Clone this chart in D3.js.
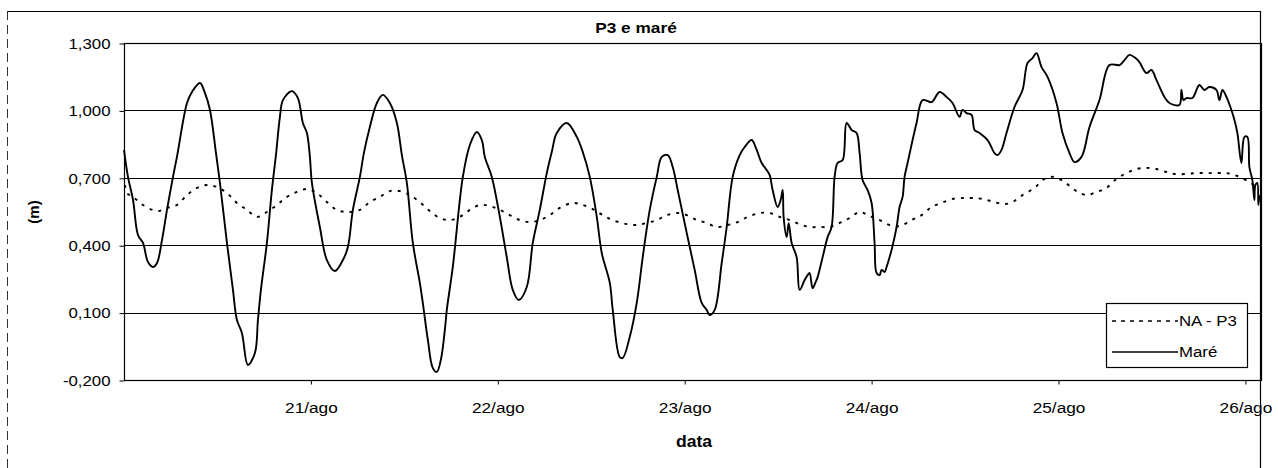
<!DOCTYPE html>
<html>
<head>
<meta charset="utf-8">
<script src="https://cdn.jsdelivr.net/npm/d3@7"></script>
<style>
  html, body { margin: 0; padding: 0; background: #fff; }
  svg { display: block; }
  text { font-family: "Liberation Sans", Arial, sans-serif; fill: #000; }
</style>
</head>
<body>
<svg id="chart" width="1278" height="468"></svg>
<script>
// Hours counted from 20/ago 00:00
const tideHours = [0,0.51,1.16,1.80,2.44,3.08,3.72,4.24,4.88,5.52,6.29,6.80,8.09,8.73,9.75,10.40,11.04,11.81,12.32,13.22,13.99,14.50,15.14,15.91,16.81,17.20,17.58,18.35,18.99,19.51,20.02,20.41,21.56,22.33,22.97,23.49,23.87,24.13,25.15,26.05,27.08,28.11,28.75,29.39,30.29,30.80,31.57,32.47,33.24,34.14,35.04,35.68,36.32,37.09,37.99,38.37,39.02,39.66,40.17,40.68,41.20,41.45,42.22,43.51,44.41,45.30,45.95,46.33,47.23,48.26,49.15,49.92,50.69,51.72,52.49,53.39,54.29,54.93,55.57,56.86,58.14,58.91,59.81,60.71,61.35,62.38,62.76,63.66,64.04,64.94,65.84,66.61,67.51,68.41,69.05,69.82,70.46,71.10,72.26,73.28,74.18,74.82,75.21,75.85,76.75,77.39,78.16,79.06,79.70,80.60,81.24,81.88,82.52,82.91,83.29,83.93,84.32,84.58,84.70,85.09,85.35,85.73,86.37,86.76,87.40,87.78,88.04,88.42,88.81,89.07,89.71,90.35,90.86,91.25,91.63,92.28,92.79,93.43,94.07,94.46,94.84,95.48,96.00,96.38,96.64,97.03,97.28,97.67,97.92,98.56,99.21,99.59,99.98,100.23,100.62,101.26,101.77,102.54,103.70,104.72,105.62,106.39,107.29,107.67,108.19,108.83,109.22,109.86,110.89,111.78,112.17,112.68,113.32,114.35,115.38,116.02,116.66,117.17,117.82,118.59,119.74,120.51,121.41,122.05,122.95,123.98,125.26,126.54,127.83,128.47,129.11,129.88,130.39,131.29,131.93,132.58,133.60,134.24,135.53,135.78,136.04,136.42,137.19,138.09,138.73,139.38,140.27,140.66,141.05,141.56,142.20,142.59,142.97,143.48,143.87,144.25,144.51,144.89,145.15,145.28,145.53,145.66,145.79];
const tideLevel = [0.824,0.704,0.601,0.445,0.410,0.325,0.303,0.321,0.423,0.557,0.704,0.793,1.033,1.082,1.122,1.077,1.002,0.810,0.677,0.410,0.201,0.067,0.009,-0.133,-0.080,0.067,0.201,0.410,0.646,0.801,0.971,1.046,1.086,1.055,0.944,0.899,0.793,0.677,0.481,0.334,0.285,0.334,0.392,0.557,0.704,0.810,0.926,1.033,1.069,1.033,0.944,0.801,0.677,0.410,0.232,0.143,-0.022,-0.147,-0.164,-0.111,0.023,0.112,0.303,0.704,0.846,0.904,0.868,0.793,0.704,0.526,0.347,0.201,0.156,0.214,0.410,0.557,0.721,0.815,0.899,0.944,0.882,0.815,0.704,0.526,0.365,0.232,0.112,-0.098,-0.102,-0.009,0.143,0.347,0.557,0.704,0.793,0.801,0.748,0.646,0.454,0.290,0.143,0.112,0.089,0.112,0.321,0.481,0.704,0.801,0.837,0.868,0.824,0.766,0.735,0.712,0.646,0.570,0.601,0.646,0.526,0.436,0.498,0.410,0.347,0.201,0.245,0.267,0.276,0.209,0.236,0.258,0.347,0.436,0.481,0.704,0.766,0.779,0.944,0.913,0.899,0.810,0.690,0.646,0.588,0.410,0.276,0.267,0.290,0.281,0.303,0.379,0.481,0.570,0.615,0.704,0.766,0.868,0.944,1.046,1.037,1.082,1.060,1.033,0.971,1.002,0.988,0.980,0.913,0.899,0.868,0.810,0.801,0.824,0.899,1.015,1.091,1.211,1.233,1.255,1.193,1.149,1.033,0.899,0.810,0.770,0.793,0.926,1.046,1.202,1.202,1.224,1.247,1.233,1.215,1.166,1.180,1.135,1.060,1.033,1.024,1.091,1.046,1.055,1.055,1.113,1.091,1.104,1.091,1.046,1.091,1.060,1.002,0.957,0.899,0.766,0.882,0.882,0.748,0.690,0.601,0.668,0.677,0.579,0.623];

const wellHours = [0.13,0.39,1.16,2.44,4.24,5.52,6.80,8.09,9.37,10.65,11.94,13.22,14.50,15.79,17.07,18.35,19.64,20.92,22.20,23.49,24.77,26.05,27.34,28.62,30.29,31.57,32.86,34.14,35.42,36.71,37.99,39.27,40.56,41.84,43.12,44.41,45.69,46.97,48.26,49.54,50.82,52.11,53.39,54.67,55.96,57.62,58.91,60.19,61.47,62.76,64.55,65.84,67.12,68.41,69.69,71.10,72.26,73.54,74.82,76.11,77.52,78.80,80.08,81.62,82.91,84.19,85.47,86.76,88.04,89.32,90.61,91.89,93.17,94.46,95.74,97.03,98.31,99.59,101.13,102.42,103.70,104.98,106.39,107.94,108.96,110.24,111.78,113.07,114.09,115.38,116.92,118.20,119.48,120.90,122.31,123.59,124.87,126.16,127.44,128.73,130.01,131.29,132.58,133.86,134.89,136.42,137.70,138.99,140.27,141.56,142.97,144.51,145.28];
const wellLevel = [0.668,0.632,0.615,0.579,0.552,0.566,0.579,0.623,0.655,0.668,0.659,0.632,0.588,0.557,0.526,0.548,0.579,0.615,0.637,0.650,0.632,0.592,0.557,0.548,0.557,0.592,0.615,0.641,0.641,0.623,0.592,0.552,0.521,0.512,0.526,0.557,0.579,0.574,0.557,0.534,0.512,0.503,0.512,0.534,0.566,0.588,0.579,0.561,0.534,0.512,0.494,0.490,0.499,0.512,0.534,0.543,0.534,0.512,0.499,0.481,0.490,0.503,0.526,0.543,0.543,0.526,0.512,0.494,0.481,0.481,0.481,0.499,0.521,0.548,0.530,0.512,0.490,0.485,0.512,0.534,0.570,0.588,0.606,0.610,0.610,0.606,0.592,0.583,0.592,0.623,0.655,0.695,0.704,0.677,0.641,0.623,0.637,0.655,0.695,0.721,0.739,0.744,0.739,0.726,0.717,0.717,0.721,0.721,0.721,0.721,0.708,0.681,0.664];

const dayTicks = [24, 48, 72, 96, 120, 144];
const dayLabels = ["21/ago", "22/ago", "23/ago", "24/ago", "25/ago", "26/ago"];
const levelTicks = [-0.2, 0.1, 0.4, 0.7, 1.0, 1.3];

const svg = d3.select("#chart");
const plot = { left: 124, right: 1261, top: 43, bottom: 380 };

const x = d3.scaleLinear().domain([0, 146]).range([plot.left, plot.right]);
const y = d3.scaleLinear().domain([-0.2, 1.3]).range([plot.bottom, plot.top]);

const ptBR = d3.formatLocale({ decimal: ",", thousands: ".", grouping: [3], currency: ["R$", ""], minus: "-" });
const fmt = ptBR.format(".3f");

// outer chart frame
svg.append("line").attr("x1", 7).attr("x2", 1260.5).attr("y1", 11.5).attr("y2", 11.5)
  .attr("stroke", "#000").attr("stroke-width", 1.2);
svg.append("line").attr("x1", 1260.5).attr("x2", 1260.5).attr("y1", 11).attr("y2", 468)
  .attr("stroke", "#000").attr("stroke-width", 1.2);
svg.append("line").attr("x1", 7.5).attr("x2", 7.5).attr("y1", 11).attr("y2", 468)
  .attr("stroke", "#333").attr("stroke-width", 1).attr("stroke-dasharray", "9,5");

// horizontal gridlines
svg.append("g").selectAll("line").data(levelTicks).join("line")
  .attr("x1", plot.left).attr("x2", plot.right)
  .attr("y1", d => Math.round(y(d)) + 0.5).attr("y2", d => Math.round(y(d)) + 0.5)
  .attr("stroke", "#000").attr("stroke-width", 1.2);

// plot border
svg.append("rect").attr("x", plot.left + 0.5).attr("y", plot.top + 0.5)
  .attr("width", plot.right - plot.left).attr("height", plot.bottom - plot.top)
  .attr("fill", "none").attr("stroke", "#000").attr("stroke-width", 1.2);

// axes
const yAxis = d3.axisLeft(y).tickValues(levelTicks).tickFormat(fmt).tickSize(5).tickPadding(9);
const gy = svg.append("g").attr("transform", `translate(${plot.left + 0.5},0.5)`).call(yAxis);
gy.select(".domain").remove();
gy.selectAll("text").attr("font-size", 15).attr("font-family", "Liberation Sans, Arial, sans-serif");

const xAxis = d3.axisBottom(x).tickValues(dayTicks).tickFormat((d, i) => dayLabels[i]).tickSize(4).tickPadding(18);
const gx = svg.append("g").attr("transform", `translate(0,${plot.bottom + 0.5})`).call(xAxis);
gx.select(".domain").remove();
gx.selectAll("text").attr("font-size", 15).attr("font-family", "Liberation Sans, Arial, sans-serif");

// widen the lettering slightly around its anchor point
function widen(sel, k) {
  sel.each(function () {
    const t = d3.select(this);
    const bb = this.getBBox();
    const anchor = t.attr("text-anchor") || getComputedStyle(this).textAnchor;
    const ox = anchor === "end" ? bb.x + bb.width : (anchor === "start" ? bb.x : bb.x + bb.width / 2);
    t.attr("transform", `translate(${ox},0) scale(${k},1) translate(${-ox},0)`);
  });
}
widen(gy.selectAll("text"), 1.12);
widen(gx.selectAll("text"), 1.15);

// series
const tide = tideHours.map((h, i) => [h, tideLevel[i]]);
const well = wellHours.map((h, i) => [h, wellLevel[i]]);
const line = d3.line().x(d => x(d[0])).y(d => y(d[1])).curve(d3.curveCatmullRom.alpha(0.5));

svg.append("path").datum(well).attr("d", line).attr("fill", "none")
  .attr("stroke", "#000").attr("stroke-width", 1.9).attr("stroke-dasharray", "3,6");
svg.append("path").datum(tide).attr("d", line).attr("fill", "none")
  .attr("stroke", "#000").attr("stroke-width", 1.9).attr("stroke-linejoin", "round");

// title and axis titles
const title = svg.append("text").attr("x", 636).attr("y", 33).attr("text-anchor", "middle")
  .attr("font-size", 15).attr("font-weight", "bold").text("P3 e maré");
const xTitle = svg.append("text").attr("x", 694).attr("y", 447).attr("text-anchor", "middle")
  .attr("font-size", 16).attr("font-weight", "bold").text("data");
svg.append("text").attr("transform", "translate(39,212) rotate(-90)").attr("text-anchor", "middle")
  .attr("font-size", 15).attr("font-weight", "bold").text("(m)");
widen(title, 1.15);
widen(xTitle, 1.1);

// legend
const lg = svg.append("g").attr("transform", "translate(1106,303)");
lg.append("rect").attr("x", 0.5).attr("y", 0.5).attr("width", 141).attr("height", 64)
  .attr("fill", "#fff").attr("stroke", "#000").attr("stroke-width", 1.2);
const entries = [
  { label: "NA - P3", dash: "4,5", y: 18 },
  { label: "Maré", dash: null, y: 49 }
];
entries.forEach(e => {
  lg.append("line").attr("x1", 6).attr("x2", 72).attr("y1", e.y).attr("y2", e.y)
    .attr("stroke", "#000").attr("stroke-width", 1.6).attr("stroke-dasharray", e.dash);
  const t = lg.append("text").attr("x", 73).attr("y", e.y + 5.5).attr("font-size", 15).text(e.label);
  widen(t, 1.12);
});
</script>
</body>
</html>
